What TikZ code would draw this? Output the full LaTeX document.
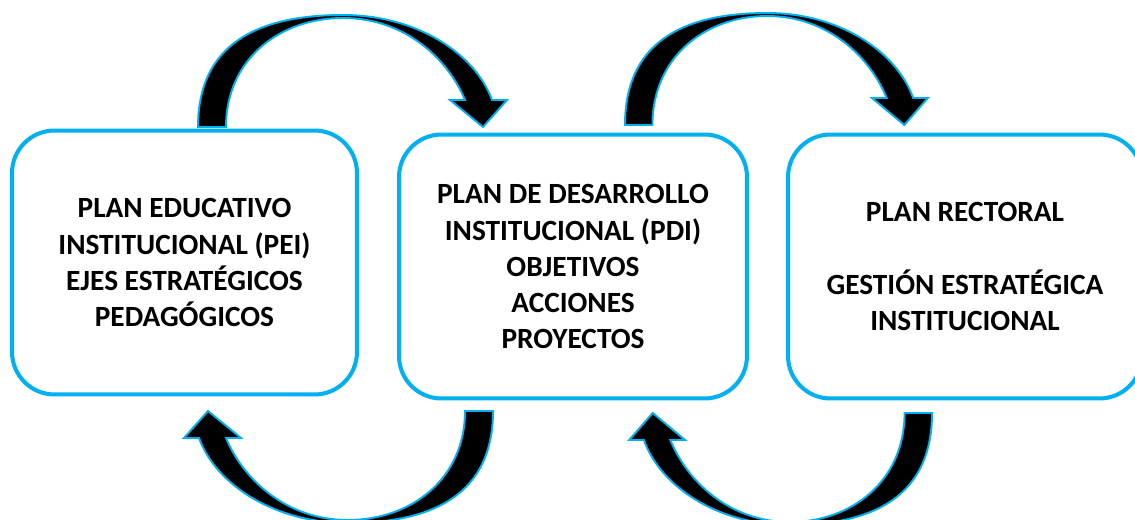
\documentclass[tikz,border=0pt]{standalone}
\usepackage{fontspec}
\setmainfont{Carlito}
\usetikzlibrary{positioning,calc}

\definecolor{celeste}{HTML}{00B0F0}

% flecha curva (cola abajo a la izquierda, punta abajo a la derecha)
\newcommand{\flechacurva}[1]{%
  \draw[flecha,#1] (0,0) .. controls (0,-82) and (58,-112) .. (145,-112)
    .. controls (218,-112) and (277,-74) .. (294,-27)
    -- (309,-27) -- (285,0) -- (252,-27) -- (267,-27)
    .. controls (250,-68) and (207,-109) .. (145,-109)
    .. controls (82,-109) and (28,-68) .. (28,0) -- cycle;}

\begin{document}
\begin{tikzpicture}[x=0.02cm,y=-0.02cm]
        \tikzstyle{every node}=[font=\bfseries\fontsize{16.7}{20.5}\selectfont]
        \tikzstyle{plan}=[draw=celeste,line width=2.3pt,rounded corners=0.85cm,align=center,minimum height=5.28cm]
        \tikzstyle{flecha}=[fill=black,draw=celeste,line width=1.1pt,line join=miter]

        \useasboundingbox (0,0) rectangle (1135,520);

        %%% Planes
        \node[plan,minimum width=6.9cm] (pei) at (184.5,262.5) {PLAN EDUCATIVO\\INSTITUCIONAL (PEI)\\EJES ESTRAT\'EGICOS\\PEDAG\'OGICOS};
        \node[plan,minimum width=6.96cm] (pdi) at (573,266.5) {PLAN DE DESARROLLO\\INSTITUCIONAL (PDI)\\OBJETIVOS\\ACCIONES\\PROYECTOS};
        \node[plan,minimum width=7.08cm] (rectoral) at (965,266.5) {PLAN RECTORAL\\~\\GESTI\'ON ESTRAT\'EGICA\\INSTITUCIONAL};

        %%% Flechas de arriba
        \begin{scope}[shift={(198,127)}]
            \flechacurva{}
        \end{scope}
        \begin{scope}[shift={(625,125)},xscale=0.98]
            \flechacurva{}
        \end{scope}

        %%% Flechas de abajo
        \begin{scope}[shift={(493,411)},rotate=180]
            \flechacurva{}
        \end{scope}
        \begin{scope}[shift={(932,413)},rotate=180,xscale=0.98]
            \flechacurva{}
        \end{scope}
    \end{tikzpicture}
\end{document}
